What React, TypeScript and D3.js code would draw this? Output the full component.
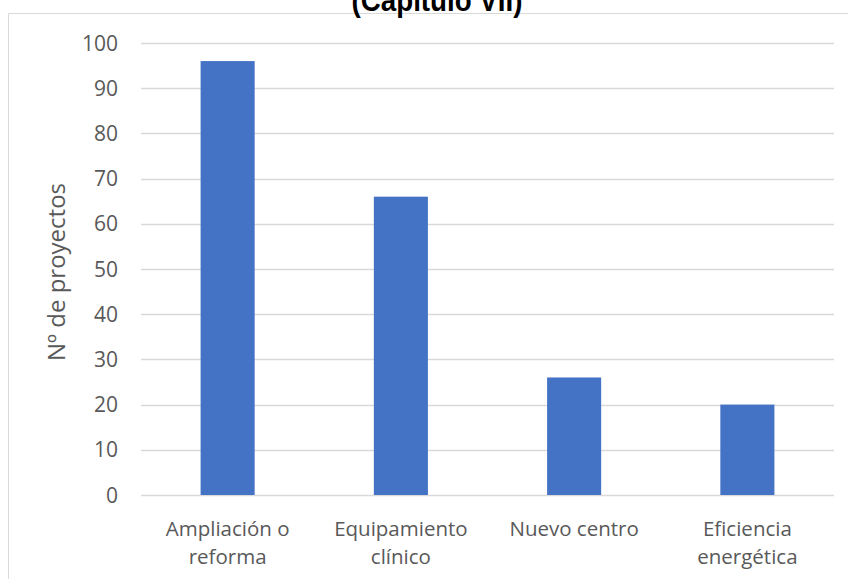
import React from "react";
import * as d3 from "d3";

const categories: string[][] = [
  ["Ampliación o", "reforma"],
  ["Equipamiento", "clínico"],
  ["Nuevo centro"],
  ["Eficiencia", "energética"],
];
const values: number[] = [96, 66, 26, 20];
const yTicks: number[] = [0, 10, 20, 30, 40, 50, 60, 70, 80, 90, 100];
const title = "(Capítulo VII)";
const yTitle = "Nº de proyectos";

const W = 848;
const H = 579;
const left = 141;
const right = 834;
const top = 43;
const bottom = 495;

const tickFont = "'Open Sans', 'Noto Sans', sans-serif";

export default function App() {
  const x = d3
    .scaleBand<number>()
    .domain(values.map((_, i) => i))
    .range([left, right])
    .paddingInner(0.688)
    .paddingOuter(0.344);
  const y = d3.scaleLinear().domain([0, 100]).range([bottom, top]);

  return (
    <svg
      width={W}
      height={H}
      style={{ position: "absolute", left: 0, top: 0, background: "#fff" }}
    >
      <rect x={0} y={0} width={W} height={H} fill="#fff" />
      <line x1={8.5} x2={W} y1={13.5} y2={13.5} stroke="#d9d9d9" strokeWidth={1} />
      <line x1={8.5} x2={8.5} y1={13.5} y2={H} stroke="#d9d9d9" strokeWidth={1} />
      <text
        x={W / 2 + 13}
        y={10.5}
        textAnchor="middle"
        fontFamily="'Liberation Sans Narrow', 'Liberation Sans', Arial, sans-serif"
        fontWeight="bold"
        fontSize={32}
        textLength={171}
        lengthAdjust="spacingAndGlyphs"
        fill="#000"
      >
        {title}
      </text>
      {yTicks.map((t) => (
        <g key={t}>
          <line
            x1={left}
            x2={right}
            y1={Math.round(y(t)) + 0.5}
            y2={Math.round(y(t)) + 0.5}
            stroke="#d9d9d9"
            strokeWidth={1.3}
          />
          <text
            x={118}
            y={y(t) + 7.5}
            textAnchor="end"
            fontFamily={tickFont}
            fontSize={21}
            fill="#595959"
          >
            {t}
          </text>
        </g>
      ))}
      {values.map((v, i) => (
        <rect
          key={i}
          x={x(i)}
          y={y(v)}
          width={x.bandwidth()}
          height={y(0) - y(v)}
          fill="#4472c4"
        />
      ))}
      {categories.map((lines, i) => (
        <text
          key={i}
          x={(x(i) as number) + x.bandwidth() / 2}
          y={536}
          textAnchor="middle"
          fontFamily={tickFont}
          fontSize={20.5}
          fill="#595959"
        >
          {lines.map((l, j) => (
            <tspan key={j} x={(x(i) as number) + x.bandwidth() / 2} dy={j === 0 ? 0 : 28}>
              {l}
            </tspan>
          ))}
        </text>
      ))}
      <text
        transform={`translate(65, 272) rotate(-90)`}
        textAnchor="middle"
        fontFamily={tickFont}
        fontSize={24}
        fill="#595959"
      >
        {yTitle}
      </text>
    </svg>
  );
}
